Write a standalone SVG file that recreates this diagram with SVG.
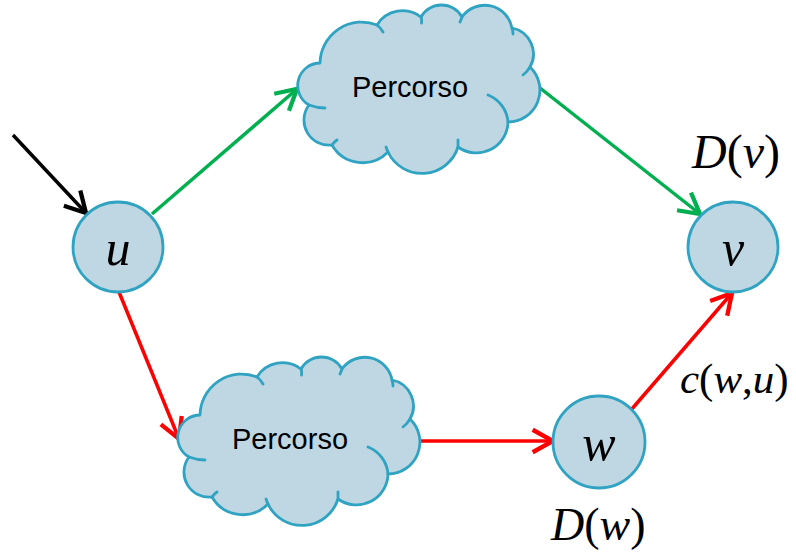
<svg xmlns="http://www.w3.org/2000/svg" xmlns:xlink="http://www.w3.org/1999/xlink" width="796" height="553" viewBox="0 0 796 553">
  <style>
    .node { fill: #BED7E3; stroke: #2FA3C1; stroke-width: 2.8; }
    .cloud { fill: #BED7E3; stroke: #2FA3C1; stroke-width: 2.8; stroke-linejoin: round; }
    .tail { fill: none; stroke: #2FA3C1; stroke-width: 2.8; stroke-linecap: round; }
    .edge { fill: none; stroke-width: 3.5; }
    .lbl { font-family: "Liberation Sans", Arial, sans-serif; font-size: 29px; fill: #000; }
    .math { font-family: "Liberation Serif", "Times New Roman", serif; font-size: 48px; fill: #000; }
    .var { font-size: 50px; }
    .it { font-style: italic; }
  </style>
  <defs>
    <marker id="head-black" markerUnits="userSpaceOnUse" markerWidth="30" markerHeight="30" viewBox="-22 -14 26 28" refX="0" refY="0" orient="auto">
      <path d="M-19,-10.5 L0,0 L-19,10.5" fill="none" stroke="#000" stroke-width="4" stroke-linejoin="miter"/>
    </marker>
    <marker id="head-green" markerUnits="userSpaceOnUse" markerWidth="30" markerHeight="30" viewBox="-22 -14 26 28" refX="0" refY="0" orient="auto">
      <path d="M-19,-10.5 L0,0 L-19,10.5" fill="none" stroke="#00B050" stroke-width="4" stroke-linejoin="miter"/>
    </marker>
    <marker id="head-red" markerUnits="userSpaceOnUse" markerWidth="30" markerHeight="30" viewBox="-22 -14 26 28" refX="0" refY="0" orient="auto">
      <path d="M-19,-10.5 L0,0 L-19,10.5" fill="none" stroke="#FF0000" stroke-width="4" stroke-linejoin="miter"/>
    </marker>
    <!-- cloud outline: eleven lobes, clockwise from the lower-left cusp -->
    <path id="cloud-shape" class="cloud" d="M309,105 A22.5,22.5 0 0 1 320,63 A41.7,41.7 0 0 1 377,25 A30,30 0 0 1 421,17 A23.5,23.5 0 0 1 462,17 A27.8,27.8 0 0 1 512,28 A26.5,26.5 0 0 1 530,67 A31.9,31.9 0 0 1 508,122 A31.6,31.6 0 0 1 458,147 A37.7,37.7 0 0 1 388,152 A35.4,35.4 0 0 1 332,145 A25.1,25.1 0 0 1 309,105 Z"/>
    <!-- short inner strokes where the lobes meet -->
    <path id="cloud-tails" class="tail" d="M309,105 Q317,108 325,108 M377,25 Q381,28 383,32 M421,17 Q422,20 421.5,23 M462,17 Q461,20 460,22 M512,28 Q513,31 513,34 M530,67 Q527,72 523,75 M488,95 A31.6,31.6 0 0 1 508,122 M458,147 Q458,143 458,140 M388,152 Q387,150 386,147 M332,145 Q334,142 337,140"/>
  </defs>

  <g id="connectors">
    <line class="edge" x1="13" y1="135" x2="86" y2="213" stroke="#000" marker-end="url(#head-black)"/>
    <line class="edge" x1="152" y1="214" x2="297" y2="89" stroke="#00B050" marker-end="url(#head-green)"/>
    <line class="edge" x1="540" y1="88" x2="700" y2="214" stroke="#00B050" marker-end="url(#head-green)"/>
    <line class="edge" x1="119" y1="292" x2="179" y2="439" stroke="#FF0000" marker-end="url(#head-red)"/>
    <line class="edge" x1="420" y1="441" x2="553" y2="441" stroke="#FF0000" marker-end="url(#head-red)"/>
    <line class="edge" x1="631" y1="410" x2="732" y2="293" stroke="#FF0000" marker-end="url(#head-red)"/>
  </g>

  <g id="path-top">
    <use xlink:href="#cloud-shape"/>
    <use xlink:href="#cloud-tails"/>
    <text class="lbl" x="410" y="97" text-anchor="middle">Percorso</text>
  </g>

  <g id="path-bottom" transform="translate(-120,352)">
    <use xlink:href="#cloud-shape"/>
    <use xlink:href="#cloud-tails"/>
    <text class="lbl" x="410" y="97" text-anchor="middle">Percorso</text>
  </g>

  <g id="node-u">
    <circle class="node" cx="118" cy="247" r="45"/>
    <text class="math var it" x="118" y="265" text-anchor="middle">u</text>
  </g>

  <g id="node-v">
    <circle class="node" cx="733" cy="247" r="45"/>
    <text class="math var it" x="733" y="265" text-anchor="middle">v</text>
  </g>

  <g id="node-w">
    <circle class="node" cx="599" cy="442" r="46"/>
    <text class="math var it" x="599" y="460" text-anchor="middle">w</text>
  </g>

  <g id="labels">
    <text class="math" x="692" y="168"><tspan class="it">D</tspan>(<tspan class="it">v</tspan>)</text>
    <text class="math" x="680" y="393" style="font-size:43px"><tspan class="it">c</tspan>(<tspan class="it">w</tspan>,<tspan class="it">u</tspan>)</text>
    <text class="math" x="551" y="540" style="font-size:46px"><tspan class="it">D</tspan>(<tspan class="it">w</tspan>)</text>
  </g>
</svg>
